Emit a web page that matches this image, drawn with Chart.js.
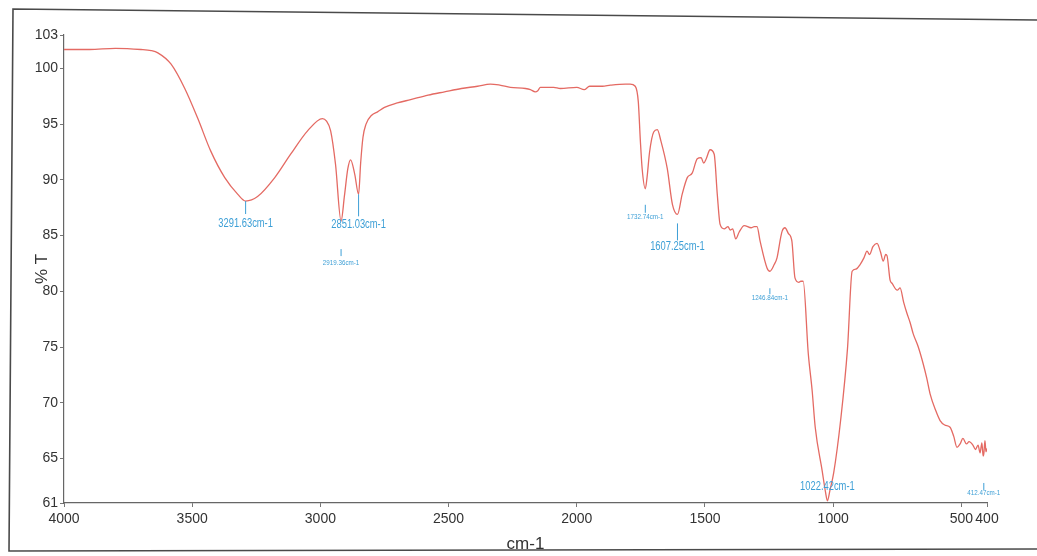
<!DOCTYPE html>
<html>
<head>
<meta charset="utf-8">
<title>FTIR spectrum</title>
<script src="https://cdn.jsdelivr.net/npm/chart.js@4"></script>
<style>
  body { margin: 0; background: #fff; }
  #wrap { width: 1037px; height: 556px; position: relative; }
</style>
</head>
<body>
<div id="wrap"><canvas id="irChart" width="1037" height="556"></canvas></div>
<script>
// spectrum (cm-1, %T)
const wavenumbers = [
  4000, 3900, 3800, 3700, 3660, 3634, 3583, 3529, 3478, 3428, 3373, 3322, 3291.63, 3245, 3178, 3116, 3050, 2992, 2977, 2960,
  2941, 2919.36, 2906, 2893, 2882, 2866, 2851.03, 2843, 2834, 2822, 2800, 2777, 2750, 2700, 2648, 2580, 2516, 2450, 2387, 2337,
  2300, 2259, 2200, 2181, 2162, 2152, 2142, 2090, 2064, 2000, 1971, 1950, 1900, 1869, 1810, 1792, 1772, 1760, 1752, 1745,
  1732.74, 1726, 1716, 1700, 1686, 1672, 1647, 1627, 1607.25, 1589, 1569, 1550, 1530, 1515, 1505, 1495, 1480, 1464, 1452, 1441,
  1425, 1410, 1402, 1392, 1380, 1367, 1347, 1320, 1308, 1297, 1285, 1258, 1246.84, 1230, 1219, 1205, 1199, 1188, 1175, 1161,
  1149, 1134, 1126, 1117, 1097, 1082, 1070, 1043, 1030, 1022.42, 1012, 998, 971, 944, 926, 910, 895, 880, 868, 858,
  845, 829, 815, 805, 795, 790, 778, 770, 750, 739, 725, 712, 700, 688, 668, 649, 635, 622, 600, 583,
  565, 544, 530, 517, 505, 494, 480, 470, 455, 445, 435, 427, 420, 415, 412.47, 408, 404, 400
];
const transmittance = [
  101.7, 101.7, 101.8, 101.7, 101.6, 101.4, 100.4, 98.2, 95.5, 92.6, 90.2, 88.7, 88.1, 88.5, 90.2, 92.3, 94.4, 95.5, 95.3, 94.4,
  91.4, 86.3, 88.6, 91.0, 91.8, 90.5, 88.7, 91.5, 93.8, 95.0, 95.8, 96.1, 96.5, 96.9, 97.2, 97.6, 97.9, 98.2, 98.4, 98.6,
  98.5, 98.3, 98.2, 98.1, 97.9, 98.0, 98.3, 98.3, 98.2, 98.3, 98.1, 98.4, 98.4, 98.5, 98.6, 98.6, 98.4, 97.0, 93.5, 91.0,
  89.2, 90.2, 92.5, 94.3, 94.5, 93.5, 91.0, 87.8, 86.9, 88.7, 90.2, 90.6, 91.9, 92.0, 91.5, 91.9, 92.7, 92.3, 88.7, 86.0,
  85.6, 85.8, 85.5, 85.6, 84.7, 85.3, 85.9, 85.7, 85.8, 85.8, 84.5, 82.1, 81.8, 82.4, 83.0, 84.8, 85.4, 85.7, 85.2, 84.5,
  81.2, 80.8, 80.9, 80.9, 74.4, 71.1, 67.8, 63.9, 62.0, 61.2, 62.2, 63.7, 68.4, 74.9, 81.8, 82.0, 82.4, 83.0, 83.6, 83.3,
  84.0, 84.3, 83.5, 82.7, 83.3, 83.2, 81.0, 80.7, 80.1, 80.3, 79.0, 78.0, 77.2, 76.2, 75.0, 73.5, 72.2, 70.8, 69.3, 68.4,
  68.0, 67.8, 67.0, 66.0, 66.3, 66.8, 66.3, 66.5, 66.2, 65.8, 66.2, 65.5, 66.4, 65.2, 65.4, 66.6, 65.6, 65.9
];
const xTicks = [4000, 3500, 3000, 2500, 2000, 1500, 1000, 500, 400];
const yTicks = [61, 65, 70, 75, 80, 85, 90, 95, 100, 103];
const peakWavenumbers = [3291.63, 2919.36, 2851.03, 1732.74, 1607.25, 1246.84, 1022.42, 412.47];
const peakLabels = ['3291.63cm-1', '2919.36cm-1', '2851.03cm-1', '1732.74cm-1', '1607.25cm-1', '1246.84cm-1', '1022.42cm-1', '412.47cm-1'];

// label look: font size, marker line (px below the curve), text offset
const peakStyle = [
  { size: 12, tick: [0, 13], dy: 23 },
  { size: 8, tick: [28, 35], dy: 42 },
  { size: 12, tick: [0, 22], dy: 30 },
  { size: 8, tick: [16, 24], dy: 28 },
  { size: 12, tick: [9, 26], dy: 32 },
  { size: 8, tick: [17, 23], dy: 27 },
  { size: 12, tick: null, dy: -14 },
  { size: 8, tick: [29, 36], dy: 39 }
];

const sans = '"Liberation Sans", Arial, sans-serif';
const peakColor = '#3d9fd6';

const framePlugin = {
  id: 'frame',
  beforeDraw(chart) {
    const ctx = chart.ctx;
    ctx.save();
    ctx.strokeStyle = '#4a4a4a';
    ctx.lineWidth = 1.6;
    ctx.beginPath();
    ctx.moveTo(1037, 20);
    ctx.lineTo(13, 9);
    ctx.lineTo(9, 551);
    ctx.lineTo(1037, 549);
    ctx.stroke();
    ctx.restore();
  }
};

// peak callouts, squeezed sideways like the instrument's narrow font
const peakPlugin = {
  id: 'peaks',
  afterDatasetsDraw(chart) {
    const ctx = chart.ctx;
    const xs = chart.scales.x, ys = chart.scales.y;
    peakWavenumbers.forEach((wn, i) => {
      let best = 0;
      wavenumbers.forEach((w, j) => {
        if (Math.abs(w - wn) < Math.abs(wavenumbers[best] - wn)) best = j;
      });
      const px = xs.getPixelForValue(wn);
      const py = ys.getPixelForValue(transmittance[best]);
      const st = peakStyle[i];
      ctx.save();
      if (st.tick) {
        ctx.strokeStyle = peakColor;
        ctx.lineWidth = 1;
        ctx.beginPath();
        ctx.moveTo(px, py + st.tick[0]);
        ctx.lineTo(px, py + st.tick[1]);
        ctx.stroke();
      }
      ctx.translate(px, py + st.dy);
      ctx.scale(0.78, 1);
      ctx.textAlign = 'center';
      ctx.textBaseline = 'middle';
      ctx.fillStyle = peakColor;
      ctx.font = st.size + 'px ' + sans;
      ctx.fillText(peakLabels[i], 0, 0);
      ctx.restore();
    });
  }
};

new Chart(document.getElementById('irChart').getContext('2d'), {
  type: 'line',
  data: {
    datasets: [{
      label: '% T',
      data: wavenumbers.map((w, i) => ({ x: w, y: transmittance[i] })),
      borderColor: '#e46a63',
      borderWidth: 1.3,
      pointRadius: 0,
      cubicInterpolationMode: 'monotone',
      fill: false
    }]
  },
  options: {
    responsive: false,
    animation: false,
    layout: { padding: { left: 0, right: 50, top: 35, bottom: 0 } },
    plugins: {
      legend: { display: false },
      tooltip: { enabled: false }
    },
    scales: {
      x: {
        type: 'linear',
        reverse: true,
        min: 400,
        max: 4000,
        afterBuildTicks: s => { s.ticks = xTicks.map(v => ({ value: v })); },
        afterFit: s => { s.height = 53; },
        grid: { drawOnChartArea: false, tickLength: 4, color: '#777' },
        border: { color: '#666', width: 1.2 },
        ticks: {
          autoSkip: false,
          maxRotation: 0,
          padding: 4,
          color: '#333',
          font: { family: sans, size: 14 },
          callback: v => String(v)
        },
        title: {
          display: true,
          text: 'cm-1',
          color: '#333',
          font: { family: sans, size: 17 },
          padding: { top: 0, bottom: 1 }
        }
      },
      y: {
        min: 61,
        max: 103,
        afterBuildTicks: s => { s.ticks = yTicks.map(v => ({ value: v })); },
        afterFit: s => { s.width = 64; },
        grid: { drawOnChartArea: false, tickLength: 4, color: '#777' },
        border: { color: '#666', width: 1.2 },
        ticks: {
          autoSkip: false,
          padding: 2,
          color: '#333',
          font: { family: sans, size: 14 },
          callback: v => String(v)
        },
        title: {
          display: true,
          text: '% T',
          color: '#333',
          font: { family: sans, size: 17 },
          padding: { top: 32, bottom: 0 }
        }
      }
    }
  },
  plugins: [framePlugin, peakPlugin]
});
</script>
</body>
</html>
